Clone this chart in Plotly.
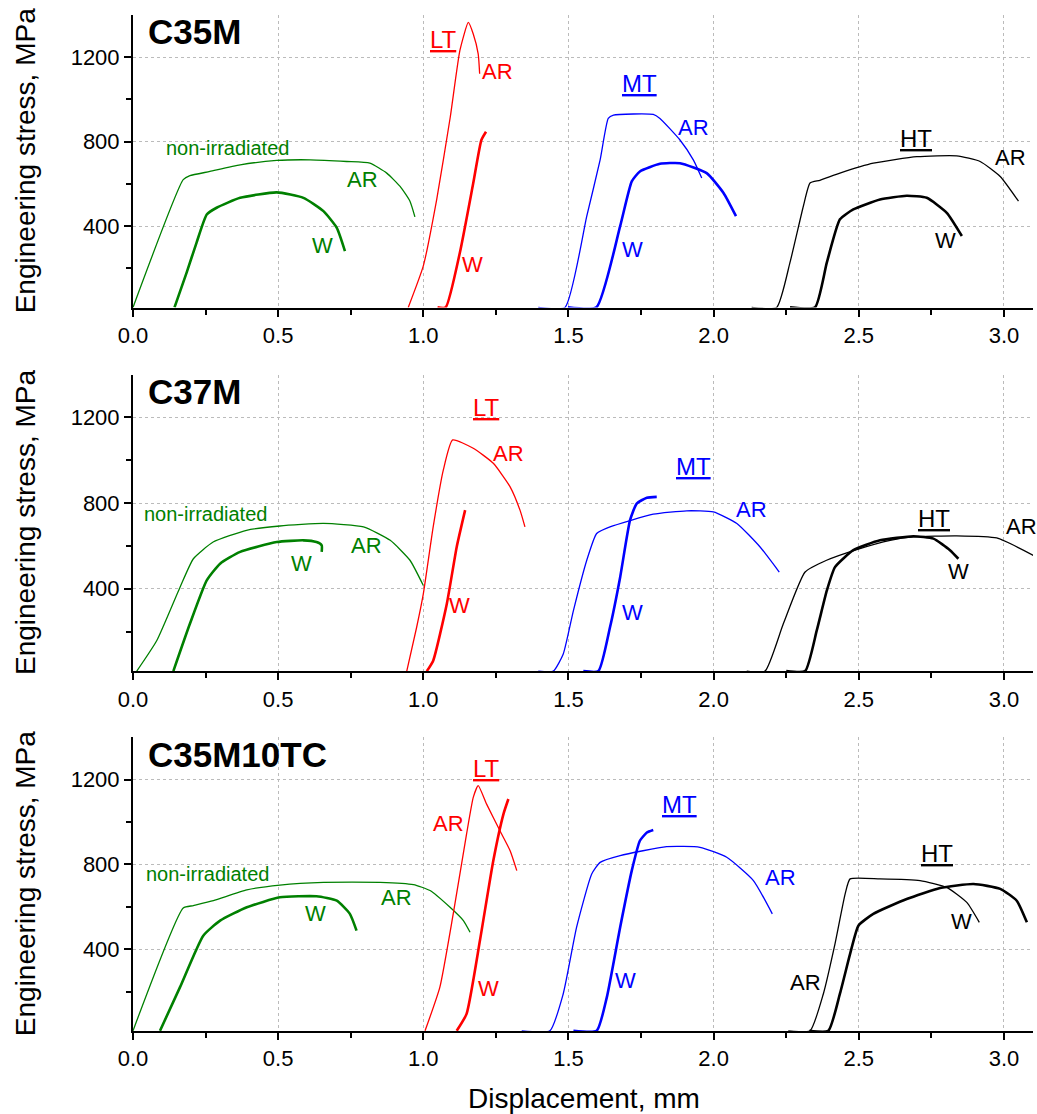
import plotly.graph_objects as go
from plotly.subplots import make_subplots

GREEN = "#008000"
RED = "#FF0000"
BLUE = "#0000FF"
BLACK = "#000000"

# ---------------- C35M ----------------
c35m_na_ar_x = [0.0, 0.173, 0.196, 0.265, 0.369, 0.495, 0.61, 0.736, 0.816, 0.874, 0.92, 0.954, 0.971]
c35m_na_ar_y = [15, 620, 639, 659, 690, 711, 714, 706, 698, 651, 588, 518, 444]
c35m_na_w_x = [0.143, 0.185, 0.219, 0.254, 0.288, 0.369, 0.495, 0.587, 0.656, 0.702, 0.730]
c35m_na_w_y = [15, 181, 322, 455, 487, 534, 560, 534, 471, 392, 282]
c35m_lt_ar_x = [0.948, 1.0, 1.046, 1.093, 1.126, 1.155, 1.172, 1.189, 1.194]
c35m_lt_ar_y = [15, 212, 526, 918, 1232, 1365, 1310, 1216, 1122]
c35m_lt_w_x = [1.049, 1.077, 1.126, 1.172, 1.2, 1.216]
c35m_lt_w_y = [15, 15, 275, 604, 808, 847]
c35m_mt_ar_x = [1.396, 1.488, 1.563, 1.609, 1.637, 1.655, 1.792, 1.815, 1.884, 1.930, 1.959]
c35m_mt_ar_y = [15, 15, 447, 714, 910, 926, 929, 910, 808, 714, 628]
c35m_mt_w_x = [1.498, 1.596, 1.678, 1.718, 1.746, 1.815, 1.884, 1.976, 2.034, 2.077]
c35m_mt_w_y = [15, 15, 400, 612, 659, 695, 698, 651, 557, 447]
c35m_ht_ar_x = [2.131, 2.217, 2.263, 2.309, 2.332, 2.366, 2.435, 2.550, 2.700, 2.837, 2.918, 2.987, 3.050]
c35m_ht_ar_y = [15, 15, 228, 494, 604, 617, 651, 698, 729, 733, 706, 635, 518]
c35m_ht_w_x = [2.263, 2.349, 2.390, 2.435, 2.481, 2.573, 2.665, 2.734, 2.803, 2.855]
c35m_ht_w_y = [15, 15, 228, 432, 479, 526, 544, 534, 463, 353]

# ---------------- C37M ----------------
c37m_na_ar_x = [0.013, 0.082, 0.162, 0.208, 0.276, 0.391, 0.506, 0.656, 0.794, 0.886, 0.954, 1.0]
c37m_na_ar_y = [15, 158, 407, 540, 618, 673, 693, 705, 689, 626, 533, 415]
c37m_na_w_x = [0.139, 0.196, 0.254, 0.300, 0.369, 0.495, 0.587, 0.632, 0.650, 0.650]
c37m_na_w_y = [15, 236, 439, 517, 572, 618, 626, 618, 603, 572]
c37m_lt_ar_x = [0.943, 0.977, 1.0, 1.034, 1.069, 1.101, 1.172, 1.241, 1.299, 1.333, 1.350]
c37m_lt_ar_y = [15, 220, 376, 689, 955, 1095, 1056, 986, 876, 767, 689]
c37m_lt_w_x = [1.012, 1.034, 1.081, 1.115, 1.144]
c37m_lt_w_y = [15, 64, 330, 595, 767]
c37m_mt_ar_x = [1.396, 1.448, 1.482, 1.517, 1.563, 1.597, 1.643, 1.792, 1.907, 1.999, 2.080, 2.160, 2.226]
c37m_mt_ar_y = [15, 15, 95, 298, 533, 658, 689, 748, 764, 759, 705, 595, 478]
c37m_mt_w_x = [1.551, 1.603, 1.643, 1.678, 1.712, 1.735, 1.770, 1.804]
c37m_mt_w_y = [15, 15, 220, 454, 720, 798, 825, 829]
c37m_ht_ar_x = [2.114, 2.177, 2.240, 2.315, 2.389, 2.493, 2.608, 2.688, 2.837, 2.975, 3.101]
c37m_ht_ar_y = [15, 15, 236, 478, 533, 583, 626, 642, 647, 637, 556]
c37m_ht_w_x = [2.250, 2.315, 2.355, 2.390, 2.418, 2.481, 2.573, 2.688, 2.757, 2.814, 2.843]
c37m_ht_w_y = [15, 15, 204, 392, 501, 580, 626, 645, 634, 580, 540]

# ---------------- C35M10TC ----------------
c35m10tc_na_ar_x = [0.0, 0.173, 0.208, 0.277, 0.392, 0.506, 0.656, 0.851, 0.966, 1.023, 1.092, 1.138, 1.161]
c35m10tc_na_ar_y = [15, 595, 606, 629, 680, 703, 716, 716, 705, 677, 598, 535, 480]
c35m10tc_na_w_x = [0.093, 0.162, 0.242, 0.300, 0.392, 0.506, 0.632, 0.702, 0.747, 0.770]
c35m10tc_na_w_y = [15, 221, 464, 535, 598, 645, 650, 629, 567, 488]
c35m10tc_lt_ar_x = [1.006, 1.057, 1.103, 1.149, 1.172, 1.189, 1.218, 1.264, 1.299, 1.322]
c35m10tc_lt_ar_y = [15, 221, 567, 944, 1117, 1172, 1085, 959, 865, 771]
c35m10tc_lt_w_x = [1.115, 1.149, 1.195, 1.241, 1.276, 1.293]
c35m10tc_lt_w_y = [15, 95, 441, 818, 1038, 1109]
c35m10tc_mt_ar_x = [1.339, 1.436, 1.482, 1.528, 1.580, 1.609, 1.678, 1.838, 1.953, 2.045, 2.137, 2.202]
c35m10tc_mt_ar_y = [15, 15, 190, 504, 755, 810, 842, 884, 881, 834, 724, 567]
c35m10tc_mt_w_x = [1.517, 1.597, 1.632, 1.678, 1.718, 1.746, 1.770, 1.792]
c35m10tc_mt_w_y = [15, 15, 173, 504, 771, 912, 951, 963]
c35m10tc_ht_ar_x = [2.257, 2.332, 2.378, 2.418, 2.453, 2.470, 2.573, 2.711, 2.803, 2.872, 2.915]
c35m10tc_ht_ar_y = [15, 15, 190, 425, 661, 732, 732, 724, 692, 621, 527]
c35m10tc_ht_w_x = [2.330, 2.395, 2.435, 2.470, 2.499, 2.550, 2.665, 2.780, 2.895, 2.987, 3.044, 3.079]
c35m10tc_ht_w_y = [15, 15, 190, 378, 512, 567, 637, 689, 708, 685, 629, 527]

panel_names = ["C35M", "C37M", "C35M10TC"]
x_ticks = [0.0, 0.5, 1.0, 1.5, 2.0, 2.5, 3.0]
y_ticks = [400, 800, 1200]

THIN = 1.3
THICK = 2.6

panels = [
    [
        (c35m_na_ar_x, c35m_na_ar_y, GREEN, THIN), (c35m_na_w_x, c35m_na_w_y, GREEN, THICK),
        (c35m_lt_ar_x, c35m_lt_ar_y, RED, THIN), (c35m_lt_w_x, c35m_lt_w_y, RED, THICK),
        (c35m_mt_ar_x, c35m_mt_ar_y, BLUE, THIN), (c35m_mt_w_x, c35m_mt_w_y, BLUE, THICK),
        (c35m_ht_ar_x, c35m_ht_ar_y, BLACK, THIN), (c35m_ht_w_x, c35m_ht_w_y, BLACK, THICK),
    ],
    [
        (c37m_na_ar_x, c37m_na_ar_y, GREEN, THIN), (c37m_na_w_x, c37m_na_w_y, GREEN, THICK),
        (c37m_lt_ar_x, c37m_lt_ar_y, RED, THIN), (c37m_lt_w_x, c37m_lt_w_y, RED, THICK),
        (c37m_mt_ar_x, c37m_mt_ar_y, BLUE, THIN), (c37m_mt_w_x, c37m_mt_w_y, BLUE, THICK),
        (c37m_ht_ar_x, c37m_ht_ar_y, BLACK, THIN), (c37m_ht_w_x, c37m_ht_w_y, BLACK, THICK),
    ],
    [
        (c35m10tc_na_ar_x, c35m10tc_na_ar_y, GREEN, THIN), (c35m10tc_na_w_x, c35m10tc_na_w_y, GREEN, THICK),
        (c35m10tc_lt_ar_x, c35m10tc_lt_ar_y, RED, THIN), (c35m10tc_lt_w_x, c35m10tc_lt_w_y, RED, THICK),
        (c35m10tc_mt_ar_x, c35m10tc_mt_ar_y, BLUE, THIN), (c35m10tc_mt_w_x, c35m10tc_mt_w_y, BLUE, THICK),
        (c35m10tc_ht_ar_x, c35m10tc_ht_ar_y, BLACK, THIN), (c35m10tc_ht_w_x, c35m10tc_ht_w_y, BLACK, THICK),
    ],
]

# text labels: (text, x, y, color, size)
labels = [
    [
        ("non-irradiated", 0.327, 770, GREEN, 20), ("AR", 0.792, 620, GREEN, 22), ("W", 0.654, 309, GREEN, 22),
        ("<u>LT</u>", 1.068, 1283, RED, 24), ("AR", 1.254, 1133, RED, 22), ("W", 1.171, 220, RED, 22),
        ("<u>MT</u>", 1.746, 1076, BLUE, 24), ("AR", 1.929, 869, BLUE, 22), ("W", 1.722, 290, BLUE, 22),
        ("<u>HT</u>", 2.697, 817, BLACK, 24), ("AR", 3.024, 723, BLACK, 22), ("W", 2.797, 333, BLACK, 22),
    ],
    [
        ("non-irradiated", 0.251, 748, GREEN, 20), ("AR", 0.803, 603, GREEN, 22), ("W", 0.579, 519, GREEN, 22),
        ("<u>LT</u>", 1.219, 1245, RED, 24), ("AR", 1.292, 1030, RED, 22), ("W", 1.126, 322, RED, 22),
        ("<u>MT</u>", 1.929, 973, BLUE, 24), ("AR", 2.132, 772, BLUE, 22), ("W", 1.722, 289, BLUE, 22),
        ("<u>HT</u>", 2.759, 730, BLACK, 24), ("AR", 3.062, 692, BLACK, 22), ("W", 2.845, 481, BLACK, 22),
    ],
    [
        ("non-irradiated", 0.255, 753, GREEN, 20), ("AR", 0.909, 644, GREEN, 22), ("W", 0.630, 568, GREEN, 22),
        ("<u>LT</u>", 1.219, 1252, RED, 24), ("AR", 1.085, 993, RED, 22), ("W", 1.223, 215, RED, 22),
        ("<u>MT</u>", 1.881, 1082, BLUE, 24), ("AR", 2.229, 738, BLUE, 22), ("W", 1.695, 252, BLUE, 22),
        ("<u>HT</u>", 2.770, 851, BLACK, 24), ("AR", 2.315, 243, BLACK, 22), ("W", 2.852, 530, BLACK, 22),
    ],
]

FONT = "Arial, Liberation Sans, sans-serif"

fig = make_subplots(rows=3, cols=1, shared_xaxes=False)

for r, curves in enumerate(panels, start=1):
    for xs, ys, col, w in curves:
        fig.add_trace(go.Scatter(x=xs, y=ys, mode="lines",
                                 line=dict(color=col, width=w, shape="spline", smoothing=0.5),
                                 showlegend=False, hoverinfo="skip"), row=r, col=1)

domains = [[0.712, 1.0], [0.354, 0.646], [0.0, 0.289]]
for r in range(1, 4):
    sfx = "" if r == 1 else str(r)
    fig.layout["xaxis" + sfx].update(
        domain=[0, 1], range=[0, 3.1], tickvals=x_ticks, ticktext=[f"{v:.1f}" for v in x_ticks],
        showline=True, linecolor="black", linewidth=2, ticks="outside", ticklen=7, tickwidth=1.5,
        tickcolor="black", tickfont=dict(size=22, color="black", family=FONT),
        showgrid=True, gridcolor="#BBBBBB", griddash="dot", gridwidth=1, zeroline=False,
        minor=dict(tickvals=[0.25, 0.75, 1.25, 1.75, 2.25, 2.75], ticks="outside", ticklen=5,
                   tickwidth=1.5, tickcolor="black", showgrid=False),
        anchor="y" + sfx,
    )
    fig.layout["yaxis" + sfx].update(
        domain=domains[r - 1], range=[14, 1400], tickvals=y_ticks,
        showline=True, linecolor="black", linewidth=2, ticks="outside", ticklen=7, tickwidth=1.5,
        tickcolor="black", tickfont=dict(size=22, color="black", family=FONT),
        showgrid=True, gridcolor="#BBBBBB", griddash="dot", gridwidth=1, zeroline=False,
        minor=dict(tickvals=[200, 600, 1000], ticks="outside", ticklen=5, tickwidth=1.5,
                   tickcolor="black", showgrid=False),
        anchor="x" + sfx,
    )
    fig.add_annotation(text=f"<b>{panel_names[r-1]}</b>", x=0.045, y=1320, xref="x" + sfx, yref="y" + sfx,
                       xanchor="left", yanchor="middle", showarrow=False,
                       font=dict(size=35, color="black", family=FONT))
    for txt, lx, ly, col, sz in labels[r - 1]:
        fig.add_annotation(text=txt, x=lx, y=ly, xref="x" + sfx, yref="y" + sfx, showarrow=False,
                           xanchor="center", yanchor="middle", font=dict(size=sz, color=col, family=FONT))
    d = domains[r - 1]
    fig.add_annotation(text="Engineering stress, MPa", x=-(133 - 25) / 900, y=(d[0] + d[1]) / 2,
                       xref="paper", yref="paper", textangle=-90, showarrow=False,
                       xanchor="center", yanchor="middle", font=dict(size=28, color="black", family=FONT))

fig.add_annotation(text="Displacement, mm", x=(584 - 133) / 900, y=-(1098 - 1031) / 1016,
                   xref="paper", yref="paper", showarrow=False, xanchor="center", yanchor="middle",
                   font=dict(size=28, color="black", family=FONT))

fig.update_layout(width=1037, height=1114, margin=dict(l=133, r=4, t=15, b=83),
                  plot_bgcolor="white", paper_bgcolor="white", showlegend=False,
                  font=dict(family=FONT, color="black"))

fig.write_html("out.html")
